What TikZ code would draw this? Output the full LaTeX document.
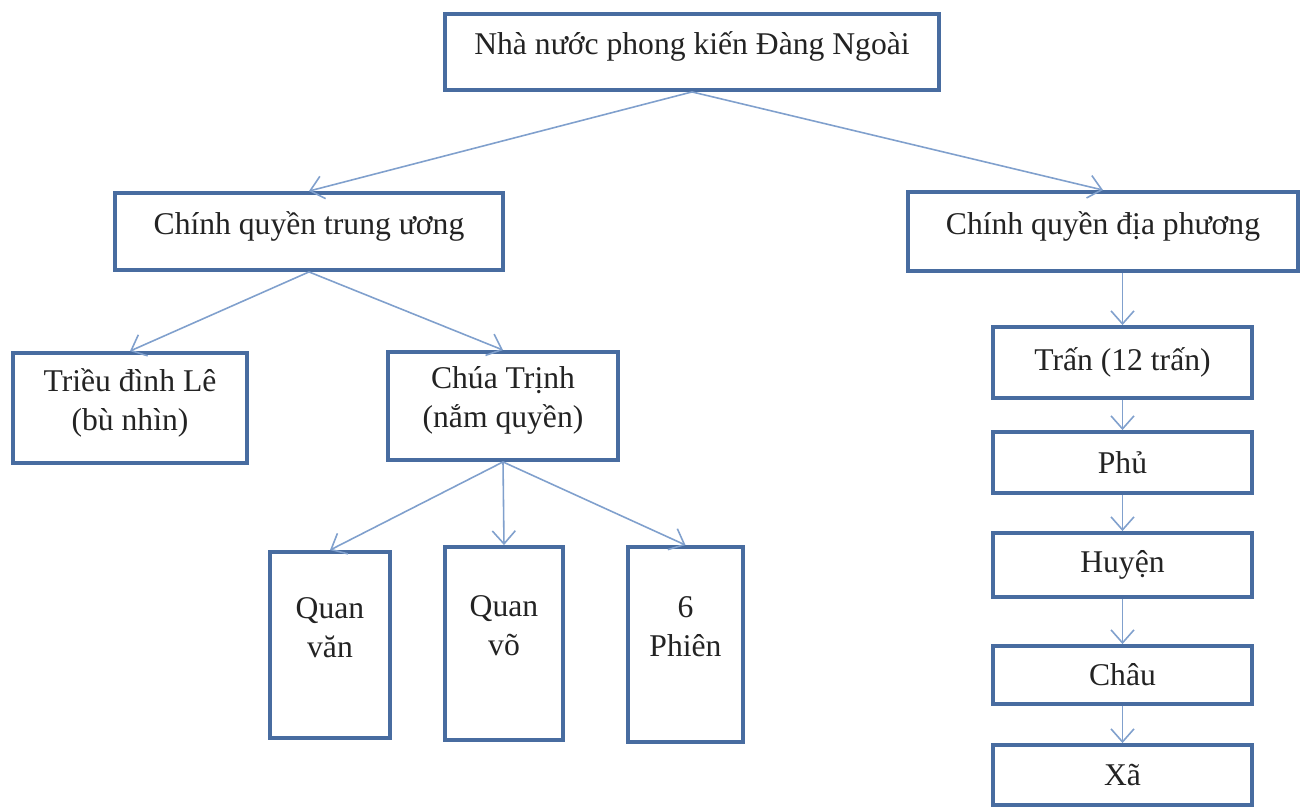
\documentclass[tikz,border=0pt]{standalone}
\usepackage{fontspec}
\setmainfont{Liberation Serif}
\usetikzlibrary{arrows.meta}
\definecolor{boxblue}{RGB}{72,108,160}
\definecolor{linkblue}{RGB}{128,160,205}
\definecolor{inkgray}{RGB}{35,35,35}
\begin{document}
\begin{tikzpicture}[
    x=0.2mm, y=-0.2mm,
    every node/.style={text=inkgray, font=\fontsize{18}{22.2}\selectfont},
    box/.style={draw=boxblue, line width=2.2pt, fill=white, inner sep=2pt, align=center},
    raised/.style={text depth=10pt},
    link/.style={draw=linkblue, line width=0.9pt, -{Straight Barb[length=2.6mm,width=4.6mm]}}
]
\useasboundingbox[fill=white] (0,0) rectangle (1303,807);
% top level
\node[box, raised, minimum width=9.88cm, minimum height=1.52cm] (nhanuoc) at (692,52) {Nhà nước phong kiến Đàng Ngoài};
\node[box, raised, minimum width=7.76cm, minimum height=1.54cm] (trunguong) at (309,231.5) {Chính quyền trung ương};
\node[box, raised, minimum width=7.8cm, minimum height=1.58cm] (diaphuong) at (1103,231.5) {Chính quyền địa phương};
% central
\node[box, raised, minimum width=4.68cm, minimum height=2.2cm] (trieudinh) at (130,408) {Triều đình Lê\\(bù nhìn)};
\node[box, raised, minimum width=4.6cm, minimum height=2.16cm] (chuatrinh) at (503,406) {Chúa Trịnh\\(nắm quyền)};
\node[box, text depth=20pt, minimum width=2.4cm, minimum height=3.72cm] (quanvan) at (330,645) {Quan\\văn};
\node[box, text depth=20pt, minimum width=2.36cm, minimum height=3.86cm] (quanvo) at (504,643.5) {Quan\\võ};
\node[box, text depth=20pt, minimum width=2.3cm, minimum height=3.9cm] (phien) at (685.5,644.5) {6\\Phiên};
% local
\node[box, minimum width=5.18cm, minimum height=1.42cm] (tran) at (1122.5,362.5) {Trấn (12 trấn)};
\node[box, minimum width=5.18cm, minimum height=1.22cm] (phu) at (1122.5,462.5) {Phủ};
\node[box, minimum width=5.18cm, minimum height=1.28cm] (huyen) at (1122.5,565) {Huyện};
\node[box, minimum width=5.18cm, minimum height=1.16cm] (chau) at (1122.5,675) {Châu};
\node[box, minimum width=5.18cm, minimum height=1.2cm] (xa) at (1122.5,775) {Xã};
% arrows
\draw[link] (nhanuoc.south) -- (trunguong.north);
\draw[link] (nhanuoc.south) -- (diaphuong.north);
\draw[link] (trunguong.south) -- (trieudinh.north);
\draw[link] (trunguong.south) -- (chuatrinh.north);
\foreach \t in {quanvan,quanvo,phien}
    \draw[link] (chuatrinh.south) -- (\t.north);
\draw[link] (diaphuong.south -| tran.north) -- (tran.north);
\foreach \a/\b in {tran/phu,phu/huyen,huyen/chau,chau/xa}
    \draw[link] (\a.south) -- (\b.north);
\end{tikzpicture}
\end{document}
